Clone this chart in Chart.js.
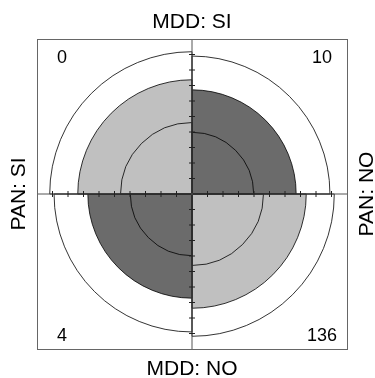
<!DOCTYPE html>
<html>
<head>
<meta charset="utf-8">
<script src="https://cdn.jsdelivr.net/npm/chart.js@4"></script>
<style>
  html, body { margin: 0; padding: 0; background: #fff; }
  #wrap { width: 375px; height: 378px; }
</style>
</head>
<body>
<div id="wrap"><canvas id="fourfold"></canvas></div>
<script>
// quadrants go clockwise from 12 o'clock: top-right, bottom-right, bottom-left, top-left
const cellCounts = ["10", "136", "4", "0"];
const cellRadius = [0.672, 0.737, 0.672, 0.737];
const ringUpper = [0.89, 0.918, 0.89, 0.918];
const ringLower = [0.398, 0.461, 0.398, 0.461];
const cellColors = ["#6b6b6b", "#c0c0c0", "#6b6b6b", "#c0c0c0"];
const tickValues = [0.1, 0.2, 0.3, 0.4, 0.5, 0.6, 0.7, 0.8, 0.9];
const rowLabels = ["PAN: SI", "PAN: NO"];
const colLabels = ["MDD: SI", "MDD: NO"];

const FONT = '"Liberation Sans", Arial, Helvetica, sans-serif';

const frame = {
  id: "frame",
  afterDatasetsDraw(chart) {
    const ctx = chart.ctx;
    const a = chart.chartArea;
    const s = chart.scales.r;
    const cx = s.xCenter, cy = s.yCenter;
    ctx.save();

    // axes through the centre
    ctx.strokeStyle = "#555";
    ctx.lineWidth = 1;
    ctx.beginPath();
    ctx.moveTo(a.left, cy);
    ctx.lineTo(a.right, cy);
    ctx.moveTo(cx, a.top);
    ctx.lineTo(cx, a.bottom);
    ctx.stroke();

    // tick marks along the four half axes
    ctx.strokeStyle = "#222";
    ctx.beginPath();
    for (const v of tickValues) {
      const d = s.getDistanceFromCenterForValue(v);
      ctx.moveTo(cx + d, cy - 3); ctx.lineTo(cx + d, cy + 3);
      ctx.moveTo(cx - d, cy - 3); ctx.lineTo(cx - d, cy + 3);
      ctx.moveTo(cx - 3, cy - d); ctx.lineTo(cx + 3, cy - d);
      ctx.moveTo(cx - 3, cy + d); ctx.lineTo(cx + 3, cy + d);
    }
    ctx.stroke();

    // box
    ctx.strokeStyle = "#666";
    ctx.strokeRect(a.left + 0.5, a.top + 0.5, a.right - a.left - 1, a.bottom - a.top - 1);

    // counts in the corners
    ctx.fillStyle = "#000";
    ctx.font = "18px " + FONT;
    ctx.textAlign = "center";
    ctx.textBaseline = "alphabetic";
    ctx.fillText(cellCounts[3], cx - 130, a.top + 24);
    ctx.fillText(cellCounts[0], cx + 130, a.top + 24);
    ctx.fillText(cellCounts[2], cx - 130, a.bottom - 9);
    ctx.fillText(cellCounts[1], cx + 130, a.bottom - 9);

    // margin labels
    ctx.font = "21px " + FONT;
    ctx.fillText(colLabels[0], cx, 28);
    ctx.fillText(colLabels[1], cx, 375);

    ctx.save();
    ctx.translate(25, cy);
    ctx.rotate(-Math.PI / 2);
    ctx.fillText(rowLabels[0], 0, 0);
    ctx.restore();

    ctx.save();
    ctx.translate(373, cy);
    ctx.rotate(-Math.PI / 2);
    ctx.fillText(rowLabels[1], 0, 0);
    ctx.restore();

    ctx.restore();
  }
};

new Chart(document.getElementById("fourfold"), {
  type: "polarArea",
  data: {
    labels: ["TR", "BR", "BL", "TL"],
    datasets: [
      {
        data: ringUpper,
        backgroundColor: "rgba(0,0,0,0)",
        borderColor: "#000",
        borderWidth: 0.8,
        order: 0,
      },
      {
        data: ringLower,
        backgroundColor: "rgba(0,0,0,0)",
        borderColor: "#000",
        borderWidth: 0.8,
        order: 1,
      },
      {
        data: cellRadius,
        backgroundColor: cellColors,
        borderColor: "#000",
        borderWidth: 0.8,
        order: 2,
      },
    ],
  },
  options: {
    responsive: true,
    maintainAspectRatio: false,
    animation: false,
    layout: { padding: { left: 37, top: 39, right: 27, bottom: 28 } },
    plugins: {
      legend: { display: false },
      tooltip: { enabled: false },
    },
    scales: {
      r: {
        display: false,
        min: 0,
        max: 1,
        startAngle: 0,
        ticks: { display: false },
        grid: { display: false },
        angleLines: { display: false },
        pointLabels: { display: false },
      },
    },
  },
  plugins: [frame],
});
</script>
</body>
</html>
